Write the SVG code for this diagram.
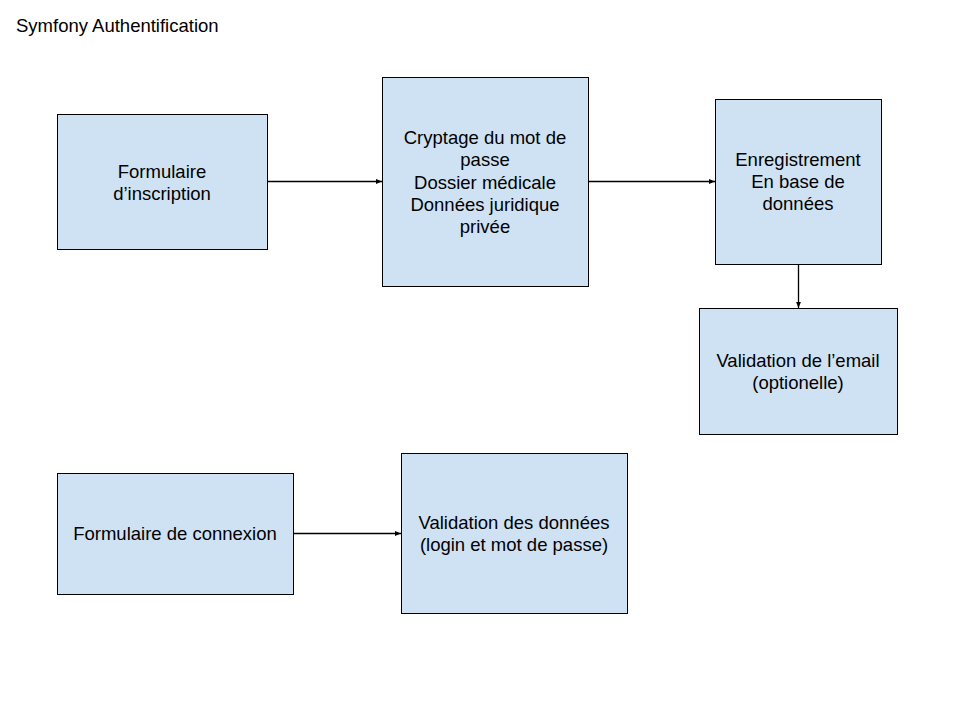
<svg xmlns="http://www.w3.org/2000/svg" width="960" height="720" viewBox="0 0 960 720">
<style>
.box{fill:#cfe2f3;stroke:#000;stroke-width:1}
.t{font-family:"Liberation Sans",Arial,sans-serif;font-size:18.5px;fill:#000;text-anchor:middle}
.edge{stroke:#000;stroke-width:1.3;fill:none;marker-end:url(#ah)}
</style>
<defs>
<marker id="ah" viewBox="0 0 10 10" refX="10" refY="5" markerWidth="6" markerHeight="6" markerUnits="userSpaceOnUse" orient="auto">
<path d="M0,1 L10,5 L0,9 z" fill="#000"/>
</marker>
</defs>
<rect width="960" height="720" fill="#fff"/>
<text x="16" y="32" font-family="'Liberation Sans',Arial,sans-serif" font-size="18.5" fill="#000">Symfony Authentification</text>
<g id="connectors">
<line class="edge" x1="267" y1="181.5" x2="382" y2="181.5"/>
<line class="edge" x1="588" y1="181.5" x2="715" y2="181.5"/>
<line class="edge" x1="798.5" y1="264" x2="798.5" y2="308"/>
<line class="edge" x1="293" y1="533.5" x2="401" y2="533.5"/>
</g>
<g id="n1"><rect class="box" x="57.5" y="114.5" width="210" height="135"/>
<text class="t" x="162" y="178">Formulaire</text><text class="t" x="162" y="200">d’inscription</text></g>
<g id="n2"><rect class="box" x="382.5" y="77.5" width="206" height="209"/>
<text class="t" x="485" y="144">Cryptage du mot de</text><text class="t" x="485" y="166">passe</text><text class="t" x="485" y="189">Dossier médicale</text><text class="t" x="485" y="211">Données juridique</text><text class="t" x="485" y="233">privée</text></g>
<g id="n3"><rect class="box" x="715.5" y="99.5" width="166" height="165"/>
<text class="t" x="798" y="166">Enregistrement</text><text class="t" x="798" y="188">En base de</text><text class="t" x="798" y="210">données</text></g>
<g id="n4"><rect class="box" x="699.5" y="308.5" width="198" height="126"/>
<text class="t" x="798" y="367">Validation de l’email</text><text class="t" x="798" y="389">(optionelle)</text></g>
<g id="n5"><rect class="box" x="57.5" y="473.5" width="236" height="121"/>
<text class="t" x="175" y="540">Formulaire de connexion</text></g>
<g id="n6"><rect class="box" x="401.5" y="453.5" width="226" height="160"/>
<text class="t" x="514" y="529">Validation des données</text><text class="t" x="514" y="551">(login et mot de passe)</text></g>
</svg>
